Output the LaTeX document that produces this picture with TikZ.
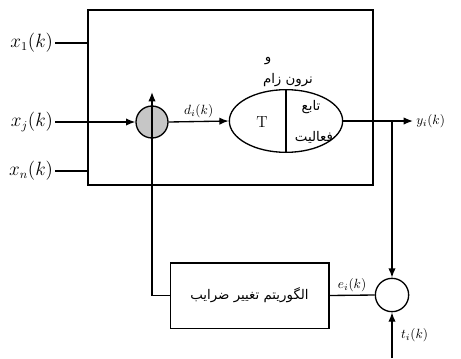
\documentclass[tikz,border=0pt]{standalone}
\usepackage{fontspec}
\newfontfamily\arabicfont[Script=Arabic]{DejaVu Sans}
\TeXXeTstate=1
\usetikzlibrary{shapes.geometric,arrows.meta}

\begin{document}
\begin{tikzpicture}[x=0.75pt,y=-0.75pt,line width=1pt,
    >={Latex[length=7pt,width=5.5pt]},
    sumnode/.style={circle,draw,fill=gray!45,minimum size=24pt,inner sep=0pt},
    errnode/.style={circle,draw,minimum size=25pt,inner sep=0pt},
    blockbox/.style={rectangle,draw,minimum width=119pt,minimum height=49pt},
    inlabel/.style={anchor=east,font=\fontsize{13.5}{16}\selectfont,inner sep=1pt}]
    	\useasboundingbox (0,0) rectangle (461,358);
    	% neuron border
    	\draw (88,10) rectangle (373,185);
    	% inputs
    	\node[inlabel] (x1) at (55,43)  {$x_1(k)$};
    	\node[inlabel] (xj) at (55,122) {$x_j(k)$};
    	\node[inlabel] (xn) at (55,171) {$x_n(k)$};
    	\draw (x1.east) -- (88,43);
    	\draw (xn.east) -- (88,171);
    	% summing junction and activation
    	\node[sumnode] (sum) at (152,122) {};
    	\node[ellipse,draw,minimum width=85pt,minimum height=47pt] (act) at (286,121) {};
    	\draw (act.north) -- (act.south);
    	\node[font=\large] (T) at (262,122) {T};
    	\node[font=\arabicfont] (func) at (311,107) {\beginR تابع\endR};
    	\node[font=\arabicfont] (fact) at (314,137) {\beginR فعالیت\endR};
    	\node[font=\arabicfont] (neur) at (288,80) {\beginR نرون زام\endR};
    	\node[font=\arabicfont] (waw) at (268,61) {\beginR و\endR};
    	\draw[->] (xj.east) -- (sum.west);
    	\draw[->] (sum.east) -- node[above,inner sep=2pt] {$d_i(k)$} (act.west);
    	% output
    	\coordinate (out) at (413,121);
    	\coordinate (br) at (392,121);
    	\draw[->] (act.east) -- (out);
    	\node[anchor=west,inner sep=2pt] (y) at (out) {$y_i(k)$};
    	% error and learning rule
    	\node[errnode] (err) at (392,295) {};
    	\node[blockbox] (alg) at (249.5,295.5) {\arabicfont\beginR الگوریتم تغییر ضرایب\endR};
    	\coordinate (tin) at (392,358);
    	\coordinate (wtip) at (152,92);
    	\draw[->] (br) -- (err.north);
    	\draw[->] (tin) -- (err.south);
    	\node[anchor=west] (t) at (396,335) {$t_i(k)$};
    	\draw (alg.east) -- node[above,inner sep=2pt] {$e_i(k)$} (err.west);
    	\draw[->] (alg.west) -| (wtip);
	\end{tikzpicture}
\end{document}
